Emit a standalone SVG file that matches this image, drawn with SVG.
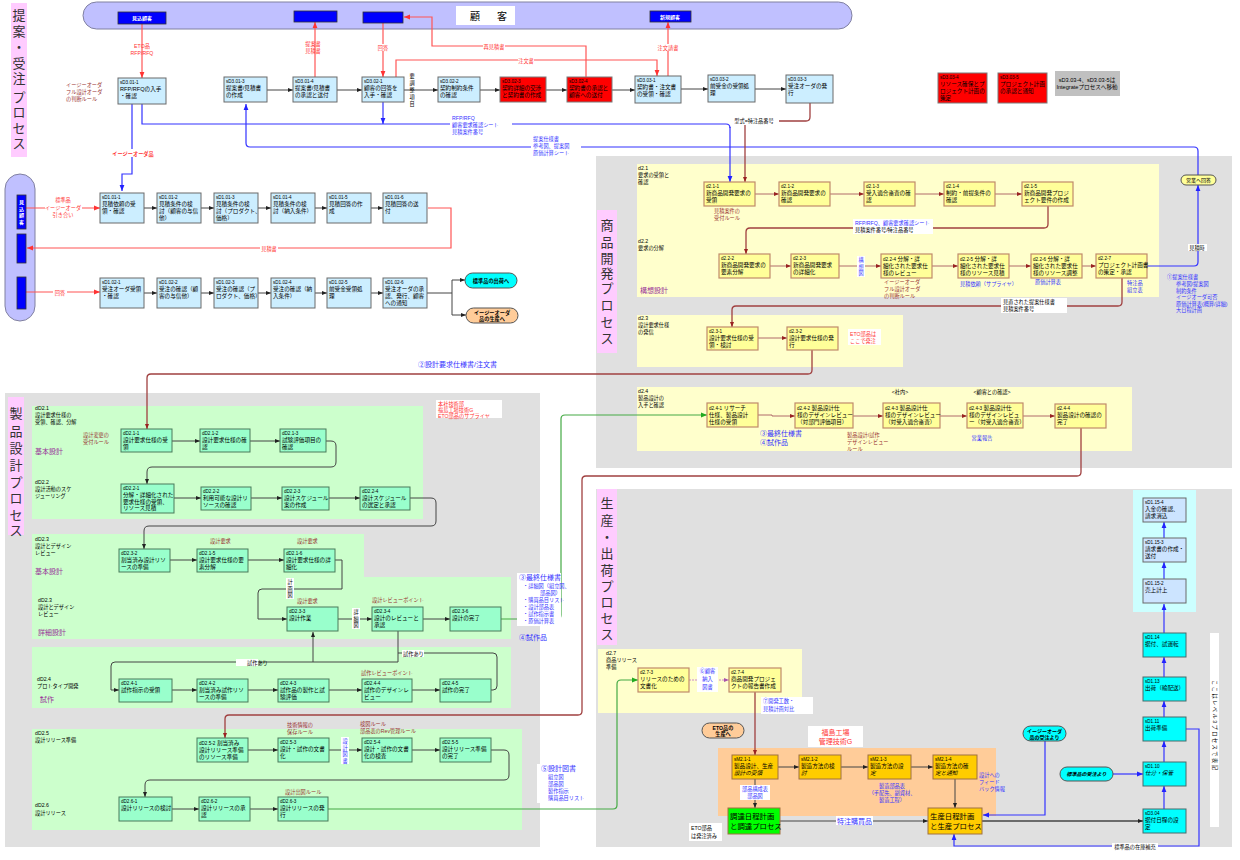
<svg xmlns="http://www.w3.org/2000/svg" width="1240" height="860" viewBox="0 0 1240 860">
<defs>
<style>
text{font-family:"Liberation Sans","Noto Sans CJK JP",sans-serif;}
.t{font-size:5.6px;fill:#000}
.ti{font-size:5.6px;fill:#000;font-style:italic}
.id{font-size:4.6px;fill:#000}
.bx{fill:#cceeff;stroke:#6a6a6a;stroke-width:1}
.lbx{fill:#cce4ff;stroke:#6a6a6a;stroke-width:1}
.rb{fill:#ff0000;stroke:#7a7a7a;stroke-width:1}
.yb{fill:#ffff99;stroke:#c08a6a;stroke-width:1.2}
.gb{fill:#99ffcc;stroke:#4a7a5a;stroke-width:1}
.ob{fill:#ffcc00;stroke:#a07040;stroke-width:1}
.cb{fill:#00ffff;stroke:#4a6a6a;stroke-width:1}
.bb{fill:#0000ff;stroke:#333;stroke-width:0.8}
.red{fill:#ff3333;font-size:5.2px}
.dr{fill:#993333;font-size:5.2px}
.blu{fill:#3333ff;font-size:5.2px}
.blk{fill:#000;font-size:5.2px}
.big{font-size:7px}
.pur{fill:#993399;font-size:7px}
.sec{font-size:13px;fill:#333;text-anchor:middle}
.wb{fill:#fff}
.cg{fill:none;stroke:#444;stroke-width:1;marker-end:url(#ag)}
.cgl{fill:none;stroke:#444;stroke-width:1}
.cy{fill:none;stroke:#b06a6a;stroke-width:1;marker-end:url(#ad)}
.cr{fill:none;stroke:#ff5555;stroke-width:1.2;marker-end:url(#ar)}
.cb1{fill:none;stroke:#3333ff;stroke-width:1.2;marker-end:url(#ab)}
.cbl{fill:none;stroke:#3333ff;stroke-width:1.2}
.cd{fill:none;stroke:#a04040;stroke-width:1.3;marker-end:url(#ad)}
.cdl{fill:none;stroke:#a04040;stroke-width:1.3}
.cgr{fill:none;stroke:#44aa44;stroke-width:1.2;marker-end:url(#agr)}
</style>
<marker id="ag" viewBox="0 0 10 10" refX="10" refY="5" markerWidth="5" markerHeight="5" markerUnits="userSpaceOnUse" orient="auto"><path d="M0,1L10,5L0,9z" fill="#222"/></marker>
<marker id="ar" viewBox="0 0 10 10" refX="10" refY="5" markerWidth="6" markerHeight="6" markerUnits="userSpaceOnUse" orient="auto"><path d="M0,1L10,5L0,9z" fill="#ff3333"/></marker>
<marker id="ab" viewBox="0 0 10 10" refX="10" refY="5" markerWidth="6" markerHeight="6" markerUnits="userSpaceOnUse" orient="auto"><path d="M0,1L10,5L0,9z" fill="#2222ff"/></marker>
<marker id="ad" viewBox="0 0 10 10" refX="10" refY="5" markerWidth="5" markerHeight="5" markerUnits="userSpaceOnUse" orient="auto"><path d="M0,1L10,5L0,9z" fill="#992222"/></marker>
<marker id="agr" viewBox="0 0 10 10" refX="10" refY="5" markerWidth="6" markerHeight="6" markerUnits="userSpaceOnUse" orient="auto"><path d="M0,1L10,5L0,9z" fill="#22aa22"/></marker>
<marker id="ap" viewBox="0 0 10 10" refX="10" refY="5" markerWidth="5" markerHeight="5" markerUnits="userSpaceOnUse" orient="auto"><path d="M0,1L10,5L0,9z" fill="#aa55aa"/></marker>
</defs>
<rect x="0" y="0" width="1240" height="860" fill="#fff"/>

<g id="backgrounds">
<rect x="596" y="156" width="636" height="312" fill="#e0e0e0"/>
<rect x="5" y="393" width="535" height="454" fill="#e0e0e0"/>
<rect x="596" y="489" width="636" height="358" fill="#e0e0e0"/>
<rect x="637" y="164" width="522" height="133" fill="#ffffcc"/>
<rect x="637" y="315" width="266" height="52" fill="#ffffcc"/>
<rect x="637" y="387" width="495" height="64" fill="#ffffcc"/>
<rect x="598" y="649" width="204" height="64" fill="#ffffcc"/>
<rect x="32" y="406" width="391" height="113" fill="#ccffcc"/>
<path d="M32,534 H364 V577 H511 V639 H32 Z" fill="#ccffcc"/>
<rect x="32" y="647" width="479" height="61" fill="#ccffcc"/>
<rect x="32" y="729" width="490" height="101" fill="#ccffcc"/>
<rect x="1133" y="490" width="63" height="122" fill="#ccffff"/>
<rect x="718" y="748" width="278" height="68" fill="#ffcc99"/>
<rect x="83" y="2" width="769" height="27" rx="13.5" fill="#c0c0ff" stroke="#8080a0"/>
<rect x="5" y="174" width="30" height="147" rx="15" fill="#c0c0ff" stroke="#8080a0"/>
<rect x="456" y="6" width="59" height="19" fill="#fff"/>
<text x="475" y="20" font-size="10" text-anchor="middle">顧</text>
<text x="502" y="20" font-size="10" text-anchor="middle">客</text>
</g>

<g id="section-titles">
<rect x="11" y="3" width="16" height="154" fill="#ffccff"/>
<text class="sec" x="19"><tspan x="19" y="20">提</tspan><tspan x="19" y="36">案</tspan><tspan x="19" y="52">・</tspan><tspan x="19" y="68">受</tspan><tspan x="19" y="83">注</tspan><tspan x="19" y="102">プ</tspan><tspan x="19" y="117">ロ</tspan><tspan x="19" y="133">セ</tspan><tspan x="19" y="148">ス</tspan></text>
<rect x="597" y="210" width="20" height="143" fill="#ffccff"/>
<text class="sec"><tspan x="607" y="230">商</tspan><tspan x="607" y="247">品</tspan><tspan x="607" y="263">開</tspan><tspan x="607" y="278">発</tspan><tspan x="607" y="293">プ</tspan><tspan x="607" y="310">ロ</tspan><tspan x="607" y="327">セ</tspan><tspan x="607" y="343">ス</tspan></text>
<rect x="8" y="397" width="16" height="138" fill="#ffccff"/>
<text class="sec"><tspan x="16" y="418">製</tspan><tspan x="16" y="436">品</tspan><tspan x="16" y="453">設</tspan><tspan x="16" y="470">計</tspan><tspan x="16" y="487">プ</tspan><tspan x="16" y="503">ロ</tspan><tspan x="16" y="520">セ</tspan><tspan x="16" y="535">ス</tspan></text>
<rect x="597" y="489" width="20" height="156" fill="#ffccff"/>
<text class="sec"><tspan x="607" y="508">生</tspan><tspan x="607" y="525">産</tspan><tspan x="607" y="542">・</tspan><tspan x="607" y="558">出</tspan><tspan x="607" y="575">荷</tspan><tspan x="607" y="591">プ</tspan><tspan x="607" y="607">ロ</tspan><tspan x="607" y="623">セ</tspan><tspan x="607" y="639">ス</tspan></text>
</g>

<g id="connectors">
<path class="cg" d="M267,90 H293"/><path class="cg" d="M337,90 H362"/><path class="cg" d="M404,90 H438"/><path class="cg" d="M480,90 H500"/><path class="cg" d="M546,90 H567"/><path class="cg" d="M612,90 H635"/><path class="cg" d="M681,89 H708"/><path class="cg" d="M755,89 H786"/>
<path class="cg" d="M144,208 H157"/><path class="cg" d="M201,208 H214"/><path class="cg" d="M258,208 H271"/><path class="cg" d="M315,208 H327"/><path class="cg" d="M371,208 H383"/>
<path class="cg" d="M144,293 H157"/><path class="cg" d="M201,293 H214"/><path class="cg" d="M258,293 H271"/><path class="cg" d="M315,293 H327"/><path class="cg" d="M371,293 H383"/>
<path class="cgl" d="M427,293 H452 M452,280 V315"/><path class="cg" d="M452,280 H465"/><path class="cg" d="M452,315 H466"/>
<path class="cr" d="M142,24 V78"/><path class="cr" d="M315,77 V22"/><path class="cr" d="M383,23 V77"/>
<path class="cr" d="M586,77 V46 H432 V17 H404"/>
<path class="cr" d="M396,77 V60 H657 V76"/>
<path class="cr" d="M668,76 V22"/>
<path class="cr" d="M26,208 H100"/>
<path class="cr" d="M428,208 H451 V248 H27"/>
<path class="cr" d="M26,292 H100"/>
<path class="cb1" d="M132,104 V174 H122 V191"/>
<path class="cbl" d="M142,104 V124 H726 Q730,124 730,128"/><path class="cb1" d="M730,127 V182"/>
<path class="cb1" d="M383,102 V124"/>
<path class="cb1" d="M1198,175 V151 Q1198,147 1194,147 H250 Q246,147 246,143 V104"/>
<path class="cb1" d="M1147,266 H1194 Q1198,266 1198,262 V185"/>
<path class="cdl" d="M810,103 V117 Q810,121 806,121 H777"/><path class="cd" d="M745,125 V182"/>
<path class="cy" d="M755,194 H779"/><path class="cy" d="M830,194 H864"/><path class="cy" d="M915,194 H944"/><path class="cy" d="M995,194 H1022"/>
<path class="cd" d="M1048,206 V224 Q1048,228 1044,228 H750 Q746,228 746,232 V254"/>
<path class="cy" d="M770,266 H791"/><path class="cy" d="M839,266 H881"/><path class="cy" d="M932,266 H958"/><path class="cy" d="M1009,266 H1031"/><path class="cy" d="M1082,266 H1096"/>
<path class="cd" d="M1122,278 V302 Q1122,306 1118,306 H736 Q732,306 732,310 V327"/>
<path class="cy" d="M758,338 H787"/>
<path class="cd" d="M812,350 V370 Q812,374 808,374 H151 Q147,374 147,378 V429"/>
<path class="cy" d="M758,415 H772 V416 H795"/><path class="cy" d="M853,416 H883"/><path class="cy" d="M940,416 H967"/><path class="cy" d="M1023,416 H1055"/>
<path class="cd" d="M1081,428 V472 Q1081,476 1077,476 H586 Q582,476 582,480 V711 Q582,715 578,715 H229 Q225,715 225,719 V738"/>
<path class="cg" d="M172,441 H200"/><path class="cg" d="M250,441 H280"/>
<path class="cg" d="M326,441 H331 Q336,441 336,446 V462 Q336,467 331,467 H152 Q147,467 147,472 V484"/>
<path class="cg" d="M174,498 H201"/><path class="cg" d="M251,498 H282"/><path class="cg" d="M329,498 H360"/>
<path class="cg" d="M410,498 H431 Q436,498 436,503 V521 Q436,526 431,526 H149 Q144,526 144,531 V549"/>
<path class="cg" d="M170,560 H197"/><path class="cg" d="M248,560 H284"/>
<path class="cg" d="M335,560 H342 V589 H262 Q258,589 258,593 V619 H287"/>
<path class="cg" d="M338,619 H372"/><path class="cg" d="M423,619 H450"/>
<path class="cg" d="M398,631 V662 H115 Q111,662 111,666 V690 H119"/>
<path class="cg" d="M313,662 V632"/>
<path class="cgl" d="M491,690 H493 Q497,690 497,686 V657 Q497,653 493,653 H398"/>
<path class="cg" d="M172,690 H197"/><path class="cg" d="M248,690 H278"/><path class="cg" d="M329,690 H362"/><path class="cg" d="M412,690 H440"/>
<path class="cg" d="M248,750 H278"/><path class="cg" d="M329,750 H362"/><path class="cg" d="M412,750 H440"/>
<path class="cg" d="M491,750 H504 Q509,750 509,755 V775 Q509,780 504,780 H150 Q145,780 145,785 V797"/>
<path class="cg" d="M172,809 H199"/><path class="cg" d="M250,809 H278"/>
<path class="cgr" d="M501,619 H557 Q561,619 561,615 V419 Q561,415 565,415 H707"/>
<path class="cgr" d="M328,809 H613 Q617,809 617,805 V684 Q617,680 621,680 H638"/>
<path fill="none" stroke="#cc88cc" stroke-width="1.2" stroke-dasharray="2,1" marker-end="url(#ap)" d="M689,680 H729"/>
<path class="cd" d="M755,692 V755"/>
<path class="cg" d="M778,767 H799"/><path class="cg" d="M841,767 H868"/><path class="cg" d="M911,767 H933"/>
<path class="cg" d="M755,779 V808"/><path class="cg" d="M955,779 V808"/>
<path class="cg" d="M780,821 H928"/>
<path fill="none" stroke="#444" stroke-width="1.6" marker-end="url(#ag)" d="M982,821 H1143"/>
<path class="cb1" d="M1164,809 V786"/><path class="cb1" d="M1164,762 V741"/><path class="cb1" d="M1164,717 V701"/><path class="cb1" d="M1164,677 V657"/><path class="cb1" d="M1164,633 V604"/><path class="cb1" d="M1164,579 V562"/><path class="cb1" d="M1164,538 V522"/>
<path class="cb1" d="M1113,774 H1143"/>
<path class="cb1" d="M1045,741 V815 H983"/>
<path class="cb1" d="M1186,729 H1199 V846 H954 V834"/>
</g>

<g id="customers">
<g id="n-mikomi"><rect class="bb" x="118" y="12" width="48" height="12"/><text x="142" y="20" font-size="5" fill="#fff" font-weight="bold" text-anchor="middle">見込顧客</text></g>
<g id="n-cust2"><rect class="bb" x="294" y="11" width="43" height="11"/></g>
<g id="n-cust3"><rect class="bb" x="363" y="12" width="40" height="11"/></g>
<g id="n-shinki"><rect class="bb" x="650" y="11" width="41" height="11"/><text x="670" y="19" font-size="5" fill="#fff" font-weight="bold" text-anchor="middle">新規顧客</text></g>
<g id="n-lmikomi"><rect class="bb" x="17" y="195" width="9" height="34"/><text font-size="5" fill="#fff" font-weight="bold" text-anchor="middle"><tspan x="21.5" y="204">見</tspan><tspan x="21.5" y="210.5">込</tspan><tspan x="21.5" y="217">顧</tspan><tspan x="21.5" y="223.5">客</tspan></text></g>
<g id="n-lcust2"><rect class="bb" x="17" y="234" width="9" height="29"/></g>
<g id="n-lcust3"><rect class="bb" x="17" y="277" width="9" height="32"/></g>
</g>

<g id="nodes-proposal">
<g id="n-sD3-01-1"><rect class="bx" x="118" y="78" width="48" height="26"/><text class="id" x="120" y="84">sD3.01-1</text><text class="t" x="120" y="91">RFP/RFQの入手</text><text class="t" x="120" y="98">・確認</text></g>
<g id="n-sD3-01-3"><rect class="bx" x="224" y="77" width="43" height="25"/><text class="id" x="226" y="83">sD3.01-3</text><text class="t" x="226" y="90">提案書/見積書</text><text class="t" x="226" y="97">の作成</text></g>
<g id="n-sD3-01-4"><rect class="bx" x="293" y="77" width="44" height="25"/><text class="id" x="295" y="83">sD3.01-4</text><text class="t" x="295" y="90">提案書/見積書</text><text class="t" x="295" y="97">の承認と送付</text></g>
<g id="n-sD3-02-1"><rect class="bx" x="362" y="77" width="42" height="25"/><text class="id" x="364" y="83">sD3.02-1</text><text class="t" x="364" y="90">顧客の回答を</text><text class="t" x="364" y="97">入手・確認</text></g>
<g id="n-sD3-02-2"><rect class="bx" x="438" y="77" width="42" height="25"/><text class="id" x="440" y="83">sD3.02-2</text><text class="t" x="440" y="90">契約制約条件</text><text class="t" x="440" y="97">の確認</text></g>
<g id="n-sD3-02-3"><rect class="rb" x="500" y="77" width="46" height="25"/><text class="id" x="502" y="83">sD3.02-3</text><text class="t" x="502" y="90">契約詳細の交渉</text><text class="t" x="502" y="97">と契約書の作成</text></g>
<g id="n-sD3-02-4"><rect class="rb" x="567" y="77" width="45" height="25"/><text class="id" x="569" y="83">sD3.02-4</text><text class="t" x="569" y="90">契約書の承認と</text><text class="t" x="569" y="97">顧客への送付</text></g>
<g id="n-sD3-03-1"><rect class="bx" x="635" y="76" width="46" height="27"/><text class="id" x="637" y="82">sD3.03-1</text><text class="t" x="637" y="89">契約書・注文書</text><text class="t" x="637" y="96">の受領・確認</text></g>
<g id="n-sD3-03-2"><rect class="bx" x="708" y="75" width="47" height="27"/><text class="id" x="710" y="81">sD3.03-2</text><text class="t" x="710" y="88">前受金の受領処</text><text class="t" x="710" y="95">理</text></g>
<g id="n-sD3-03-3"><rect class="bx" x="786" y="75" width="47" height="28"/><text class="id" x="788" y="81">sD3.03-3</text><text class="t" x="788" y="88">受注オーダの発</text><text class="t" x="788" y="95">行</text></g>
<g id="n-sD3-03-4"><rect class="rb" x="938" y="73" width="49" height="30"/><text class="id" x="940" y="79">sD3.03-4</text><text class="t" x="940" y="86">リソース確保とプ</text><text class="t" x="940" y="93">ロジェクト計画の</text><text class="t" x="940" y="100">策定</text></g>
<g id="n-sD3-03-5"><rect class="rb" x="998" y="73" width="49" height="30"/><text class="id" x="1000" y="79">sD3.03-5</text><text class="t" x="1000" y="86">プロジェクト計画</text><text class="t" x="1000" y="93">の承認と通知</text></g>
<g id="n-note-integrate"><rect x="1055" y="71" width="65" height="25" fill="#c0c0c0"/><text class="t" x="1087" y="82" text-anchor="middle" font-size="5">sD3.03-4、sD3.03-5は</text><text class="t" x="1087" y="89" text-anchor="middle" font-size="5">Integrateプロセスへ移動</text></g>

<g id="n-sD1-01-1"><rect class="bx" x="100" y="193" width="44" height="30"/><text class="id" x="102" y="199">sD1.01-1</text><text class="t" x="102" y="206">見積依頼の受</text><text class="t" x="102" y="213">領・確認</text></g>
<g id="n-sD1-01-2"><rect class="bx" x="157" y="193" width="44" height="30"/><text class="id" x="159" y="199">sD1.01-2</text><text class="t" x="159" y="206" font-size="5.2">見積条件の検</text><text class="t" x="159" y="213" font-size="5.2">討（顧客の与信</text><text class="t" x="159" y="220" font-size="5.2">他）</text></g>
<g id="n-sD1-01-3"><rect class="bx" x="214" y="193" width="44" height="30"/><text class="id" x="216" y="199">sD1.01-3</text><text class="t" x="216" y="206" font-size="5.2">見積条件の検</text><text class="t" x="216" y="213" font-size="5">討（プロダクト、</text><text class="t" x="216" y="220" font-size="5.2">価格）</text></g>
<g id="n-sD1-01-4"><rect class="bx" x="271" y="193" width="44" height="30"/><text class="id" x="273" y="199">sD1.01-4</text><text class="t" x="273" y="206" font-size="5.2">見積条件の検</text><text class="t" x="273" y="213" font-size="5.2">討（納入条件）</text></g>
<g id="n-sD1-01-5"><rect class="bx" x="327" y="193" width="44" height="30"/><text class="id" x="329" y="199">sD1.01-5</text><text class="t" x="329" y="206">見積回答の作</text><text class="t" x="329" y="213">成</text></g>
<g id="n-sD1-01-6"><rect class="bx" x="383" y="193" width="44" height="30"/><text class="id" x="385" y="199">sD1.01-6</text><text class="t" x="385" y="206">見積回答の送</text><text class="t" x="385" y="213">付</text></g>
<g id="n-sD1-02-1"><rect class="bx" x="100" y="278" width="44" height="30"/><text class="id" x="102" y="284">sD1.02-1</text><text class="t" x="102" y="291" font-size="5.2">受注オーダ受領</text><text class="t" x="102" y="298" font-size="5.2">・確認</text></g>
<g id="n-sD1-02-2"><rect class="bx" x="157" y="278" width="44" height="30"/><text class="id" x="159" y="284">sD1.02-2</text><text class="t" x="159" y="291" font-size="5.2">受注の確認（顧</text><text class="t" x="159" y="298" font-size="5.2">客の与信他）</text></g>
<g id="n-sD1-02-3"><rect class="bx" x="214" y="278" width="44" height="30"/><text class="id" x="216" y="284">sD1.02-3</text><text class="t" x="216" y="291" font-size="5.2">受注の確認（プ</text><text class="t" x="216" y="298" font-size="5">ロダクト、価格）</text></g>
<g id="n-sD1-02-4"><rect class="bx" x="271" y="278" width="44" height="30"/><text class="id" x="273" y="284">sD1.02-4</text><text class="t" x="273" y="291" font-size="5.2">受注の確認（納</text><text class="t" x="273" y="298" font-size="5.2">入条件）</text></g>
<g id="n-sD1-02-5"><rect class="bx" x="327" y="278" width="44" height="30"/><text class="id" x="329" y="284">sD1.02-5</text><text class="t" x="329" y="291">前受金受領処</text><text class="t" x="329" y="298">理</text></g>
<g id="n-sD1-02-6"><rect class="bx" x="383" y="278" width="44" height="30"/><text class="id" x="385" y="284">sD1.02-6</text><text class="t" x="385" y="291" font-size="5.2">受注オーダの承</text><text class="t" x="385" y="298" font-size="5.2">認、発行、顧客</text><text class="t" x="385" y="305" font-size="5.2">への通知</text></g>
<g id="n-std-ship"><rect x="465" y="273" width="52" height="15" rx="7.5" fill="#00ffff" stroke="#555"/><text x="491" y="283" font-size="5.2" font-weight="bold" text-anchor="middle">標準品の出荷へ</text></g>
<g id="n-easy-prod"><rect x="466" y="308" width="52" height="15" rx="7.5" fill="#ffcc99" stroke="#555"/><text font-size="5.2" font-weight="bold" text-anchor="middle"><tspan x="492" y="314.5">イージーオーダ</tspan><tspan x="492" y="320.5">品の生産へ</tspan></text></g>
</g>

<g id="nodes-development">
<g id="n-eigyo"><rect x="1181" y="175" width="35" height="10" rx="5" fill="#ffff99" stroke="#555"/><text x="1198.5" y="182" font-size="5" text-anchor="middle">営業へ回答</text></g>
<g id="n-d2-1-1"><rect class="yb" x="704" y="182" width="51" height="24"/><text class="id" x="706" y="188">d2.1-1</text><text class="t" x="706" y="195">新商品開発要求の</text><text class="t" x="706" y="202">受領</text></g>
<g id="n-d2-1-2"><rect class="yb" x="779" y="182" width="51" height="24"/><text class="id" x="781" y="188">d2.1-2</text><text class="t" x="781" y="195">新商品開発要求の</text><text class="t" x="781" y="202">確認</text></g>
<g id="n-d2-1-3"><rect class="yb" x="864" y="182" width="51" height="24"/><text class="id" x="866" y="188">d2.1-3</text><text class="t" x="866" y="195">受入適合審査の確</text><text class="t" x="866" y="202">認</text></g>
<g id="n-d2-1-4"><rect class="yb" x="944" y="182" width="51" height="24"/><text class="id" x="946" y="188">d2.1-4</text><text class="t" x="946" y="195">制約・前提条件の</text><text class="t" x="946" y="202">確認</text></g>
<g id="n-d2-1-5"><rect class="yb" x="1022" y="182" width="51" height="24"/><text class="id" x="1024" y="188">d2.1-5</text><text class="t" x="1024" y="195">新商品開発プロジ</text><text class="t" x="1024" y="202">ェクト要件の作成</text></g>
<g id="n-d2-2-2"><rect class="yb" x="719" y="254" width="51" height="24"/><text class="id" x="721" y="260">d2.2-2</text><text class="t" x="721" y="267">新商品開発要求の</text><text class="t" x="721" y="274">要素分解</text></g>
<g id="n-d2-2-3"><rect class="yb" x="791" y="254" width="48" height="24"/><text class="id" x="793" y="260">d2.2-3</text><text class="t" x="793" y="267">新商品開発要求</text><text class="t" x="793" y="274">の詳細化</text></g>
<g id="n-d2-2-4"><rect class="yb" x="881" y="254" width="51" height="24"/><text class="t" x="883" y="261"><tspan class="id">d2.2-4</tspan> 分解・詳</text><text class="t" x="883" y="268">細化された要求仕</text><text class="t" x="883" y="275">様のレビュー</text></g>
<g id="n-d2-2-5"><rect class="yb" x="958" y="254" width="51" height="24"/><text class="t" x="960" y="261"><tspan class="id">d2.2-5</tspan> 分解・詳</text><text class="t" x="960" y="268">細化された要求仕</text><text class="t" x="960" y="275">様のリソース見積</text></g>
<g id="n-d2-2-6"><rect class="yb" x="1031" y="254" width="51" height="24"/><text class="t" x="1033" y="261"><tspan class="id">d2.2-6</tspan> 分解・詳</text><text class="t" x="1033" y="268">細化された要求仕</text><text class="t" x="1033" y="275">様のリソース調整</text></g>
<g id="n-d2-2-7"><rect class="yb" x="1096" y="254" width="51" height="24"/><text class="id" x="1098" y="260">d2.2-7</text><text class="t" x="1098" y="267">プロジェクト計画書</text><text class="t" x="1098" y="274">の策定・承認</text></g>
<g id="n-d2-3-1"><rect class="yb" x="707" y="327" width="51" height="23"/><text class="id" x="709" y="333">d2.3-1</text><text class="t" x="709" y="340">設計要求仕様の受</text><text class="t" x="709" y="347">領・検討</text></g>
<g id="n-d2-3-2"><rect class="yb" x="787" y="327" width="51" height="23"/><text class="id" x="789" y="333">d2.3-2</text><text class="t" x="789" y="340">設計要求仕様の発</text><text class="t" x="789" y="347">行</text></g>
<g id="n-d2-4-1"><rect class="yb" x="707" y="403" width="51" height="24"/><text class="t" x="709" y="410"><tspan class="id">d2.4-1</tspan> リサーチ</text><text class="t" x="709" y="417">仕様、製品設計</text><text class="t" x="709" y="424">仕様の受領</text></g>
<g id="n-d2-4-2"><rect class="yb" x="795" y="403" width="58" height="25"/><text class="t" x="797" y="410"><tspan class="id">d2.4-2</tspan> 製品設計仕</text><text class="t" x="797" y="417">様のデザインレビュー</text><text class="t" x="797" y="424">（対部門評価項目）</text></g>
<g id="n-d2-4-3a"><rect class="yb" x="883" y="403" width="57" height="25"/><text class="t" x="885" y="410"><tspan class="id">d2.4-3</tspan> 製品設計仕</text><text class="t" x="885" y="417">様のデザインレビュー</text><text class="t" x="885" y="424">（対受入適合審査）</text></g>
<g id="n-d2-4-3b"><rect class="yb" x="967" y="403" width="56" height="25"/><text class="t" x="969" y="410"><tspan class="id">d2.4-3</tspan> 製品設計仕</text><text class="t" x="969" y="417">様のデザインレビュ</text><text class="t" x="969" y="424" font-size="5.2">ー（対受入適合審査）</text></g>
<g id="n-d2-4-4"><rect class="yb" x="1055" y="404" width="51" height="24"/><text class="id" x="1057" y="410">d2.4-4</text><text class="t" x="1057" y="417">製品設計の確認の</text><text class="t" x="1057" y="424">完了</text></g>
</g>

<g id="nodes-design">
<g id="n-dD2-1-1"><rect class="gb" x="121" y="429" width="51" height="23"/><text class="id" x="123" y="435">dD2.1-1</text><text class="t" x="123" y="442">設計要求仕様の受</text><text class="t" x="123" y="449">領</text></g>
<g id="n-dD2-1-2"><rect class="gb" x="200" y="429" width="50" height="23"/><text class="id" x="202" y="435">dD2.1-2</text><text class="t" x="202" y="442">設計要求仕様の確</text><text class="t" x="202" y="449">認</text></g>
<g id="n-dD2-1-3"><rect class="gb" x="280" y="429" width="46" height="23"/><text class="id" x="282" y="435">dD2.1-3</text><text class="t" x="282" y="442">試験評価項目の</text><text class="t" x="282" y="449">確認</text></g>
<g id="n-dD2-2-1"><rect class="gb" x="121" y="484" width="53" height="29"/><text class="id" x="123" y="490">dD2.2-1</text><text class="t" x="123" y="497">分解・詳細化された</text><text class="t" x="123" y="503.5">要求仕様の受領、</text><text class="t" x="123" y="510">リソース見積</text></g>
<g id="n-dD2-2-2"><rect class="gb" x="201" y="487" width="50" height="23"/><text class="id" x="203" y="493">dD2.2-2</text><text class="t" x="203" y="500">利用可能な設計リ</text><text class="t" x="203" y="507">ソースの確認</text></g>
<g id="n-dD2-2-3"><rect class="gb" x="282" y="487" width="47" height="23"/><text class="id" x="284" y="493">dD2.2-3</text><text class="t" x="284" y="500">設計スケジュール</text><text class="t" x="284" y="507">案の作成</text></g>
<g id="n-dD2-2-4"><rect class="gb" x="360" y="487" width="50" height="23"/><text class="id" x="362" y="493">dD2.2-4</text><text class="t" x="362" y="500">設計スケジュール</text><text class="t" x="362" y="507">の選定と承認</text></g>
<g id="n-dD2-3-2"><rect class="gb" x="119" y="549" width="51" height="23"/><text class="id" x="121" y="555">dD2.3-2</text><text class="t" x="121" y="562">割当済み設計リソ</text><text class="t" x="121" y="569">ースの準備</text></g>
<g id="n-dD2-1-5"><rect class="gb" x="197" y="549" width="51" height="23"/><text class="id" x="199" y="555">dD2.1-5</text><text class="t" x="199" y="562">設計要求仕様の要</text><text class="t" x="199" y="569">素分解</text></g>
<g id="n-dD2-1-6"><rect class="gb" x="284" y="549" width="51" height="23"/><text class="id" x="286" y="555">dD2.1-6</text><text class="t" x="286" y="562">設計要求仕様の詳</text><text class="t" x="286" y="569">細化</text></g>
<g id="n-dD2-3-3"><rect class="gb" x="287" y="607" width="51" height="24"/><text class="id" x="289" y="613">dD2.3-3</text><text class="t" x="289" y="620">設計作業</text></g>
<g id="n-dD2-3-4"><rect class="gb" x="372" y="607" width="51" height="24"/><text class="id" x="374" y="613">dD2.3-4</text><text class="t" x="374" y="620">設計のレビューと</text><text class="t" x="374" y="627">承認</text></g>
<g id="n-dD2-3-6"><rect class="gb" x="450" y="607" width="51" height="24"/><text class="id" x="452" y="613">dD2.3-6</text><text class="t" x="452" y="620">設計の完了</text></g>
<g id="n-dD2-4-1"><rect class="gb" x="119" y="679" width="53" height="23"/><text class="id" x="121" y="685">dD2.4-1</text><text class="t" x="121" y="692">試作指示の受領</text></g>
<g id="n-dD2-4-2"><rect class="gb" x="197" y="679" width="51" height="23"/><text class="id" x="199" y="685">dD2.4-2</text><text class="t" x="199" y="692">割当済み試作リソ</text><text class="t" x="199" y="699">ースの準備</text></g>
<g id="n-dD2-4-3"><rect class="gb" x="278" y="679" width="51" height="23"/><text class="id" x="280" y="685">dD2.4-3</text><text class="t" x="280" y="692">試作品の製作と試</text><text class="t" x="280" y="699">験評価</text></g>
<g id="n-dD2-4-4"><rect class="gb" x="362" y="679" width="50" height="23"/><text class="id" x="364" y="685">dD2.4-4</text><text class="t" x="364" y="692">試作のデザインレ</text><text class="t" x="364" y="699">ビュー</text></g>
<g id="n-dD2-4-5"><rect class="gb" x="440" y="679" width="51" height="23"/><text class="id" x="442" y="685">dD2.4-5</text><text class="t" x="442" y="692">試作の完了</text></g>
<g id="n-dD2-5-2"><rect class="gb" x="197" y="738" width="51" height="24"/><text class="t" x="199" y="745"><tspan class="id">dD2.5-2</tspan> 割当済み</text><text class="t" x="199" y="752">設計リリース準備</text><text class="t" x="199" y="759">のリソース準備</text></g>
<g id="n-dD2-5-3"><rect class="gb" x="278" y="738" width="51" height="24"/><text class="id" x="280" y="744">dD2.5-3</text><text class="t" x="280" y="751">設計・試作の文書</text><text class="t" x="280" y="758">化</text></g>
<g id="n-dD2-5-4"><rect class="gb" x="362" y="738" width="50" height="24"/><text class="id" x="364" y="744">dD2.5-4</text><text class="t" x="364" y="751">設計・試作の文書</text><text class="t" x="364" y="758">化の検査</text></g>
<g id="n-dD2-5-5"><rect class="gb" x="440" y="738" width="51" height="24"/><text class="id" x="442" y="744">dD2.5-5</text><text class="t" x="442" y="751">設計リリース準備</text><text class="t" x="442" y="758">の完了</text></g>
<g id="n-dD2-6-1"><rect class="gb" x="119" y="797" width="53" height="24"/><text class="id" x="121" y="803">dD2.6-1</text><text class="t" x="121" y="810">設計リリースの検討</text></g>
<g id="n-dD2-6-2"><rect class="gb" x="199" y="797" width="51" height="24"/><text class="id" x="201" y="803">dD2.6-2</text><text class="t" x="201" y="810">設計リリースの承</text><text class="t" x="201" y="817">認</text></g>
<g id="n-dD2-6-3"><rect class="gb" x="278" y="797" width="50" height="24"/><text class="id" x="280" y="803">dD2.6-3</text><text class="t" x="280" y="810">設計リリースの発</text><text class="t" x="280" y="817">行</text></g>
</g>

<g id="nodes-production">
<g id="n-d2-7-3"><rect class="yb" x="638" y="668" width="51" height="24"/><text class="id" x="640" y="674">d2.7-3</text><text class="t" x="640" y="681">リリースのための</text><text class="t" x="640" y="688">文書化</text></g>
<g id="n-d2-7-4"><rect class="yb" x="729" y="668" width="52" height="24"/><text class="id" x="731" y="674">d2.7-4</text><text class="t" x="731" y="681">商品開発プロジェ</text><text class="t" x="731" y="688">クトの報告書作成</text></g>
<g id="n-eto-prod"><rect x="702" y="723" width="42" height="15" rx="7.5" fill="#ffcc99" stroke="#555"/><text font-size="5.2" font-weight="bold" text-anchor="middle"><tspan x="723" y="729.5">ETO品の</tspan><tspan x="723" y="735.5">生産へ</tspan></text></g>
<g id="n-sM2-1-1"><rect class="ob" x="732" y="755" width="46" height="24"/><text class="id" x="734" y="761">sM2.1-1</text><text class="t" x="734" y="768">製品設計、生産</text><text class="ti" x="734" y="775">設計の受領</text></g>
<g id="n-sM2-1-2"><rect class="ob" x="799" y="755" width="42" height="24"/><text class="id" x="801" y="761">sM2.1-2</text><text class="t" x="801" y="768">製造方法の検</text><text class="ti" x="801" y="775">討</text></g>
<g id="n-sM2-1-3"><rect class="ob" x="868" y="755" width="43" height="24"/><text class="id" x="870" y="761">sM2.1-3</text><text class="t" x="870" y="768">製造方法の設</text><text class="ti" x="870" y="775">定</text></g>
<g id="n-sM2-1-4"><rect class="ob" x="933" y="755" width="44" height="24"/><text class="id" x="935" y="761">sM2.1-4</text><text class="t" x="935" y="768">製造方法の確</text><text class="ti" x="935" y="775">定と通知</text></g>
<g id="n-procure"><rect x="728" y="808" width="52" height="26" fill="#00ff00" stroke="#a07040"/><text x="730" y="819" font-size="7.4">調達日程計画</text><text x="730" y="829" font-size="7.4">と調達プロセス</text></g>
<g id="n-produce"><rect class="ob" x="928" y="808" width="54" height="26"/><text x="930" y="819" font-size="7.4">生産日程計画</text><text x="930" y="829" font-size="7.4">と生産プロセス</text></g>
<g id="n-sD3-04"><rect class="cb" x="1143" y="809" width="43" height="24"/><text class="id" x="1145" y="815">sD3.04</text><text class="t" x="1145" y="822">据付日程の設</text><text class="t" x="1145" y="829">定</text></g>
<g id="n-sD1-10"><rect class="cb" x="1143" y="762" width="43" height="24"/><text class="id" x="1145" y="768">sD1.10</text><text class="ti" x="1145" y="775">仕分・保管</text></g>
<g id="n-sD1-11"><rect class="cb" x="1143" y="717" width="43" height="24"/><text class="id" x="1145" y="723">sD1.11</text><text class="t" x="1145" y="730">出荷準備</text></g>
<g id="n-sD1-13"><rect class="cb" x="1143" y="677" width="43" height="24"/><text class="id" x="1145" y="683">sD1.13</text><text class="t" x="1145" y="690">出荷（輸配送）</text></g>
<g id="n-sD1-14"><rect class="cb" x="1143" y="633" width="43" height="24"/><text class="id" x="1145" y="639">sD1.14</text><text class="t" x="1145" y="646">据付、試運転</text></g>
<g id="n-sD1-15-2"><rect class="lbx" x="1143" y="579" width="43" height="24"/><text class="id" x="1145" y="585">sD1.15-2</text><text class="t" x="1145" y="592">売上計上</text></g>
<g id="n-sD1-15-3"><rect class="lbx" x="1143" y="538" width="43" height="24"/><text class="id" x="1145" y="544">sD1.15-3</text><text class="t" x="1145" y="551">請求書の作成・</text><text class="t" x="1145" y="558">送付</text></g>
<g id="n-sD1-15-4"><rect class="lbx" x="1143" y="498" width="43" height="24"/><text class="id" x="1145" y="504">sD1.15-4</text><text class="t" x="1145" y="511">入金の確認、</text><text class="t" x="1145" y="518">請求消込</text></g>
<g id="n-easy-order"><rect x="1023" y="726" width="43" height="15" rx="7.5" fill="#00ffff" stroke="#555"/><text font-size="5" font-weight="bold" text-anchor="middle"><tspan x="1044.5" y="732.5">イージーオーダ</tspan><tspan x="1044.5" y="738.5">品の受注より</tspan></text></g>
<g id="n-std-order"><rect x="1060" y="767" width="53" height="14" rx="7" fill="#00ffff" stroke="#555"/><text x="1086.5" y="776" font-size="5" font-weight="bold" font-style="italic" text-anchor="middle">標準品の受注より</text></g>
</g>

<g id="labels">
<text class="red" text-anchor="middle"><tspan x="142" y="48">ETO品</tspan><tspan x="142" y="55">RFP/RFQ</tspan></text>
<text class="dr"><tspan x="66" y="87">イージーオーダ</tspan><tspan x="66" y="94">フル設計オーダ</tspan><tspan x="66" y="101">の判断ルール</tspan></text>
<text class="red" text-anchor="middle"><tspan x="313" y="46">提案書</tspan><tspan x="313" y="53">見積書</tspan></text>
<rect class="wb" x="376" y="44" width="14" height="7"/><text class="red" x="383" y="50" text-anchor="middle">回答</text>
<rect class="wb" x="483" y="43" width="22" height="7"/><text class="red" x="494" y="49" text-anchor="middle">再見積書</text>
<rect class="wb" x="518" y="57" width="16" height="7"/><text class="red" x="526" y="63" text-anchor="middle">注文書</text>
<rect class="wb" x="657" y="44" width="22" height="7"/><text class="red" x="668" y="50" text-anchor="middle">注文請書</text>
<text class="blk" text-anchor="middle"><tspan x="412" y="78">要</tspan><tspan x="412" y="85">調</tspan><tspan x="412" y="92">整</tspan><tspan x="412" y="99">項</tspan><tspan x="412" y="106">目</tspan></text>
<rect class="wb" x="450" y="114" width="62" height="21"/>
<text class="blu"><tspan x="452" y="119.5">RFP/RFQ</tspan><tspan x="452" y="126.5">顧客要求確認シート</tspan><tspan x="452" y="133.5">見積案件番号</tspan></text>
<rect class="wb" x="531" y="135" width="50" height="21"/>
<text class="blu"><tspan x="533" y="140.5">提案仕様書</tspan><tspan x="533" y="147.5">参考図、提案図</tspan><tspan x="533" y="154.5">原価計算シート</tspan></text>
<rect class="wb" x="110" y="149" width="46" height="8"/><text class="red" x="133" y="155.5" text-anchor="middle" font-weight="bold">イージーオーダ品</text>
<text class="red" text-anchor="middle"><tspan x="63" y="202">標準品</tspan></text>
<rect class="wb" x="45" y="204" width="37" height="7"/>
<text class="red" text-anchor="middle"><tspan x="63" y="210">イージーオーダ</tspan><tspan x="63" y="217">引き合い</tspan></text>
<rect class="wb" x="260" y="245" width="18" height="7"/><text class="red" x="269" y="250.5" text-anchor="middle">見積書</text>
<rect class="wb" x="53" y="289" width="14" height="7"/><text class="red" x="60" y="294.5" text-anchor="middle">回答</text>
<rect class="wb" x="729" y="117" width="50" height="7"/><text class="blk" x="754" y="123" text-anchor="middle">型式=特注品番号</text>

<text class="blk"><tspan x="638" y="170">d2.1</tspan><tspan x="638" y="177">要求の受領と</tspan><tspan x="638" y="184">確認</tspan></text>
<text class="dr"><tspan x="714" y="213">見積案件の</tspan><tspan x="714" y="220">受付ルール</tspan></text>
<rect class="wb" x="853" y="219" width="80" height="15"/>
<text class="blu" x="855" y="225">RFP/RFQ、顧客要求確認シート</text>
<text class="blk" x="855" y="232">見積案件番号/特注品番号</text>
<text class="blk"><tspan x="638" y="243">d2.2</tspan><tspan x="638" y="250">要求の分解</tspan></text>
<text class="pur" x="640" y="293">構想設計</text>
<rect class="wb" x="857" y="256" width="8" height="21"/>
<text class="blu" text-anchor="middle"><tspan x="861" y="262">構</tspan><tspan x="861" y="268.5">想</tspan><tspan x="861" y="275">図</tspan></text>
<text class="dr"><tspan x="884" y="284">イージーオーダ</tspan><tspan x="884" y="291">フル設計オーダ</tspan><tspan x="884" y="298">の判断ルール</tspan></text>
<text class="blu" x="960" y="286">見積依頼（サプライヤ）</text>
<text class="blu" x="1035" y="284">原価計算表</text>
<text class="blu"><tspan x="1127" y="285">特注品</tspan><tspan x="1127" y="291.5">組立表</tspan></text>
<rect class="wb" x="1188" y="244" width="19" height="7"/><text class="blk" x="1197" y="250" text-anchor="middle">見積時</text>
<text class="blu" x="1167" y="279" font-size="8">①提案仕様書</text>
<text class="blu" font-size="5"><tspan x="1176" y="286">参考図/提案図</tspan><tspan x="1176" y="292.5">制約条件</tspan><tspan x="1176" y="299">イージオーダ可否</tspan><tspan x="1176" y="305.5">原価計算表(概算/詳細)</tspan><tspan x="1176" y="312">大日程計画</tspan></text>
<rect class="wb" x="1001" y="298" width="66" height="15"/>
<text class="blk"><tspan x="1003" y="304">見直された提案仕様書</tspan><tspan x="1003" y="311">見積案件番号</tspan></text>
<text class="blk"><tspan x="638" y="320">d2.3</tspan><tspan x="638" y="327">設計要求仕様</tspan><tspan x="638" y="334">の発信</tspan></text>
<rect class="wb" x="848" y="329" width="33" height="16"/>
<text class="red"><tspan x="850" y="336">ETO部品は</tspan><tspan x="850" y="343">ここで発注</tspan></text>
<text class="blu big" x="418" y="367">②設計要求仕様書/注文書</text>
<text class="blk"><tspan x="638" y="393">d2.4</tspan><tspan x="638" y="400">製品設計の</tspan><tspan x="638" y="407">入手と確認</tspan></text>
<text class="blk" x="900" y="394" text-anchor="middle">&lt;社内&gt;</text>
<text class="blk" x="992" y="394" text-anchor="middle">&lt;顧客との確認&gt;</text>
<text class="blu big"><tspan x="760" y="436">③最終仕様書</tspan><tspan x="760" y="445">④試作品</tspan></text>
<text class="dr"><tspan x="847" y="437">製品設計/試作</tspan><tspan x="847" y="444">デザインレビュー</tspan><tspan x="847" y="451">ルール</tspan></text>
<text class="blu" x="982" y="440" text-anchor="middle">営業報告</text>

<rect class="wb" x="436" y="400" width="66" height="18"/>
<text class="red"><tspan x="438" y="405.5">本社技術部</tspan><tspan x="438" y="411.5">福島工場技術G</tspan><tspan x="438" y="417.5">ETO部品のサプライヤ</tspan></text>
<text class="blk"><tspan x="35" y="410">dD2.1</tspan><tspan x="35" y="417">設計要求仕様の</tspan><tspan x="35" y="424">受領、確認、分解</tspan></text>
<text class="dr"><tspan x="83" y="437">設計変更の</tspan><tspan x="83" y="444">受付ルール</tspan></text>
<text class="pur" x="35" y="454">基本設計</text>
<text class="blk"><tspan x="35" y="484">dD2.2</tspan><tspan x="35" y="491">設計活動のスケ</tspan><tspan x="35" y="498">ジューリング</tspan></text>
<text class="blk"><tspan x="35" y="541">dD2.3</tspan><tspan x="35" y="548">設計とデザイン</tspan><tspan x="35" y="555">レビュー</tspan></text>
<text class="pur" x="35" y="574">基本設計</text>
<text class="dr" x="210" y="543">設計要求</text>
<text class="dr" x="297" y="543">設計要求</text>
<rect class="wb" x="286" y="578" width="8" height="21"/>
<text class="blk" text-anchor="middle"><tspan x="290" y="584">計</tspan><tspan x="290" y="590.5">画</tspan><tspan x="290" y="597">図</tspan></text>
<text class="blk"><tspan x="38" y="602">dD2.3</tspan><tspan x="38" y="609">設計とデザイン</tspan><tspan x="38" y="616">レビュー</tspan></text>
<text class="pur" x="38" y="635">詳細設計</text>
<text class="dr" x="297" y="603">設計要求</text>
<text class="dr" x="372" y="602">設計レビューポイント</text>
<rect class="wb" x="352" y="608" width="8" height="21"/>
<text class="blk" text-anchor="middle"><tspan x="356" y="614">詳</tspan><tspan x="356" y="620.5">細</tspan><tspan x="356" y="627">図</tspan></text>
<rect class="wb" x="517" y="573" width="44" height="53"/>
<text class="blu big" x="519" y="580">③最終仕様書</text>
<text class="blu"><tspan x="523" y="587.5">・詳細図（組立図、</tspan><tspan x="540" y="594.5">部品図）</tspan><tspan x="523" y="601.5">・購買品目リスト</tspan><tspan x="523" y="608.5">・設計部品表</tspan><tspan x="523" y="615.5">・試作指示書</tspan><tspan x="523" y="622.5">・原価計算表</tspan></text>
<text class="blu big" x="519" y="640">④試作品</text>
<rect class="wb" x="236" y="659" width="22" height="7"/><text class="blk" x="247" y="665">試作あり</text>
<rect class="wb" x="402" y="650" width="22" height="7"/><text class="blk" x="403" y="656">試作あり</text>
<text class="dr" x="361" y="675">試作レビューポイント</text>
<text class="blk"><tspan x="37" y="681">dD2.4</tspan><tspan x="37" y="688">プロトタイプ開発</tspan></text>
<text class="pur" x="40" y="702">試作</text>
<text class="dr"><tspan x="287" y="727">技術情報の</tspan><tspan x="287" y="734">保存ルール</tspan></text>
<text class="dr"><tspan x="360" y="726">検図ルール</tspan><tspan x="360" y="733">部品表のRev管理ルール</tspan></text>
<text class="blk"><tspan x="35" y="735">dD2.5</tspan><tspan x="35" y="742">設計リリース準備</tspan></text>
<rect class="wb" x="341" y="737" width="8" height="27"/>
<text class="blu" text-anchor="middle"><tspan x="345" y="743">設</tspan><tspan x="345" y="749.5">計</tspan><tspan x="345" y="756">図</tspan><tspan x="345" y="762.5">書</tspan></text>
<text class="dr" x="285" y="794">設計出図ルール</text>
<text class="blk"><tspan x="35" y="807">dD2.6</tspan><tspan x="35" y="815">設計リリース</tspan></text>
<rect class="wb" x="537" y="764" width="58" height="39"/>
<text class="blu big" x="541" y="771">⑤設計図書</text>
<text class="blu"><tspan x="548" y="779">組立図</tspan><tspan x="548" y="786">部品図</tspan><tspan x="548" y="793">製作指示</tspan><tspan x="548" y="800">購買品目リスト</tspan></text>

<text class="blk"><tspan x="606" y="655">d2.7</tspan><tspan x="606" y="662">商品リリース</tspan><tspan x="606" y="669">準備</tspan></text>
<rect class="wb" x="697" y="667" width="21" height="25"/>
<text class="blu" text-anchor="middle"><tspan x="707.5" y="673">⑥顧客</tspan><tspan x="707.5" y="681">納入</tspan><tspan x="707.5" y="689">図書</tspan></text>
<rect class="wb" x="761" y="697" width="52" height="17"/>
<text class="blu"><tspan x="763" y="703">⑦開発工数・</tspan><tspan x="763" y="711">見積計画対比</tspan></text>
<rect class="wb" x="808" y="726" width="55" height="21"/>
<text class="red big" text-anchor="middle"><tspan x="835.5" y="735">福島工場</tspan><tspan x="835.5" y="744">管理技術G</tspan></text>
<text class="blu" text-anchor="middle"><tspan x="892" y="788">製造部品表</tspan><tspan x="892" y="795">（手配先、副資材、</tspan><tspan x="892" y="802">製造工程）</tspan></text>
<text class="blu"><tspan x="979" y="777">設計への</tspan><tspan x="979" y="784">フィード</tspan><tspan x="979" y="791">バック情報</tspan></text>
<rect class="wb" x="740" y="785" width="30" height="15"/>
<text class="blu" text-anchor="middle"><tspan x="755" y="791">部品構成表</tspan><tspan x="755" y="798">部品図</tspan></text>
<rect class="wb" x="836" y="816" width="37" height="9"/><text class="blu big" x="854.5" y="823.5" text-anchor="middle">特注購買品</text>
<rect class="wb" x="689" y="823" width="33" height="18"/>
<text class="blk"><tspan x="691" y="830">ETO部品</tspan><tspan x="691" y="838">は発注済み</tspan></text>
<rect class="wb" x="1112" y="843" width="46" height="7"/><text class="blk" x="1135" y="848.5" text-anchor="middle">標準品の在庫補充</text>
<rect class="wb" x="1210" y="633" width="9" height="194"/>
<text class="blk" font-size="5.5" letter-spacing="1.5" transform="translate(1212.5,680) rotate(90)">ここはレベル3プロセスで表記</text>
</g>
</svg>
